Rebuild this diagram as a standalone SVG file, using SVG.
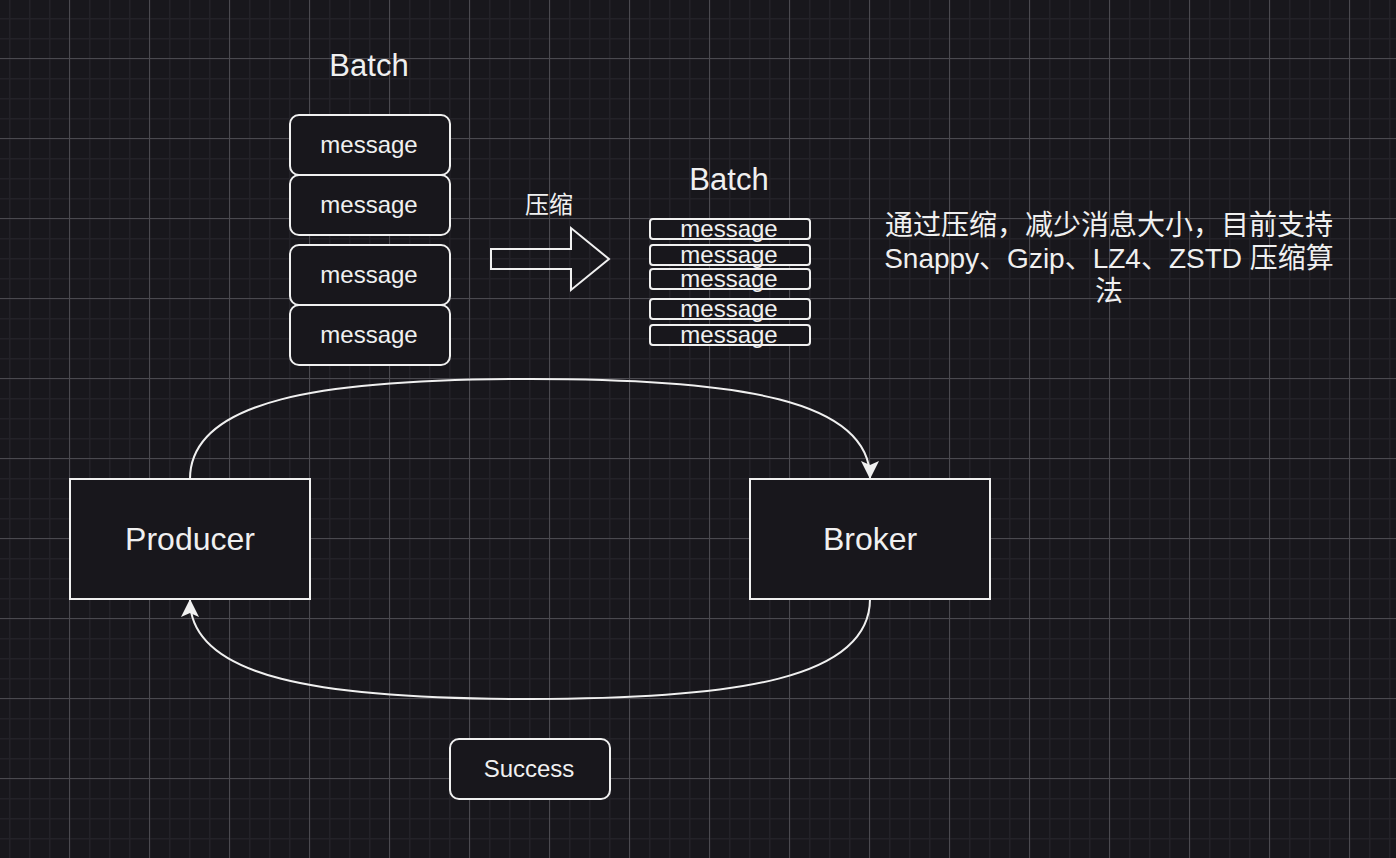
<svg xmlns="http://www.w3.org/2000/svg" width="1396" height="858" viewBox="0 0 1396 858">
<defs>
<pattern id="minor" width="20" height="20" patternUnits="userSpaceOnUse" x="9" y="-2">
<path d="M0 0.5H20M0.5 0V20" stroke="#232228" stroke-width="2" fill="none"/>
</pattern>
<pattern id="major" width="80" height="80" patternUnits="userSpaceOnUse" x="69" y="58">
<path d="M0 0.5H80M0.5 0V80" stroke="#4a494f" stroke-width="1" fill="none"/>
</pattern>
<marker id="arr" viewBox="0 0 18 18" markerWidth="18" markerHeight="18" refX="17" refY="9" orient="auto" markerUnits="userSpaceOnUse">
<path d="M0,0 L18,9 L0,18 L4,9 Z" fill="#f0f0f0"/>
</marker>
<style>
.box{fill:#18171c;stroke:#f0f0f0;stroke-width:2}
.t{fill:#f0f0f0;font-family:"Liberation Sans","Noto Sans CJK SC",sans-serif;text-anchor:middle}
.cjk{fill:#f0f0f0;font-family:"Liberation Sans","Noto Sans CJK SC",sans-serif;text-anchor:middle}
.edge{fill:none;stroke:#f0f0f0;stroke-width:2}
</style>
</defs>
<rect width="1396" height="858" fill="#18171c"/>
<rect width="1396" height="858" fill="url(#minor)"/>
<rect width="1396" height="858" fill="url(#major)"/>

<g id="batch1-label"><text class="t" x="369" y="76" font-size="31">Batch</text></g>
<g id="msg1"><rect class="box" x="290" y="115" width="160" height="60" rx="9"/><text class="t" x="369" y="153" font-size="24">message</text></g>
<g id="msg2"><rect class="box" x="290" y="175" width="160" height="60" rx="9"/><text class="t" x="369" y="213" font-size="24">message</text></g>
<g id="msg3"><rect class="box" x="290" y="245" width="160" height="60" rx="9"/><text class="t" x="369" y="283" font-size="24">message</text></g>
<g id="msg4"><rect class="box" x="290" y="305" width="160" height="60" rx="9"/><text class="t" x="369" y="343" font-size="24">message</text></g>

<g id="compress-label"><text class="cjk" x="549" y="213" font-size="24">压缩</text></g>
<g id="compress-arrow"><polygon points="491,249 571,249 571,228 609,259 571,290 571,269 491,269" fill="none" stroke="#f0f0f0" stroke-width="2"/></g>

<g id="batch2-label"><text class="t" x="729" y="190" font-size="31">Batch</text></g>
<g id="smsg1"><rect class="box" x="650" y="219" width="160" height="20" rx="3"/><text class="t" x="729" y="237" font-size="24">message</text></g>
<g id="smsg2"><rect class="box" x="650" y="245" width="160" height="20" rx="3"/><text class="t" x="729" y="263" font-size="24">message</text></g>
<g id="smsg3"><rect class="box" x="650" y="269" width="160" height="20" rx="3"/><text class="t" x="729" y="287" font-size="24">message</text></g>
<g id="smsg4"><rect class="box" x="650" y="299" width="160" height="20" rx="3"/><text class="t" x="729" y="317" font-size="24">message</text></g>
<g id="smsg5"><rect class="box" x="650" y="325" width="160" height="20" rx="3"/><text class="t" x="729" y="343" font-size="24">message</text></g>

<g id="note">
<text class="cjk" x="1109" y="235" font-size="28">通过压缩，减少消息大小，目前支持</text>
<text class="cjk" x="1109" y="268" font-size="28">Snappy、Gzip、LZ4、ZSTD 压缩算</text>
<text class="cjk" x="1109" y="301" font-size="28">法</text>
</g>

<g id="producer"><rect class="box" x="70" y="479" width="240" height="120"/><text class="t" x="190" y="550" font-size="32">Producer</text></g>
<g id="broker"><rect class="box" x="750" y="479" width="240" height="120"/><text class="t" x="870" y="550" font-size="32">Broker</text></g>
<g id="success"><rect class="box" x="450" y="739" width="160" height="60" rx="9"/><text class="t" x="529" y="777" font-size="24">Success</text></g>

<g id="connectors">
<path class="edge" d="M190,479 C190,400 320,379 530,379 C740,379 870,400 870,478" marker-end="url(#arr)"/>
<path class="edge" d="M870,599 C870,678 740,699 530,699 C320,699 190,678 190,600" marker-end="url(#arr)"/>
</g>
</svg>
